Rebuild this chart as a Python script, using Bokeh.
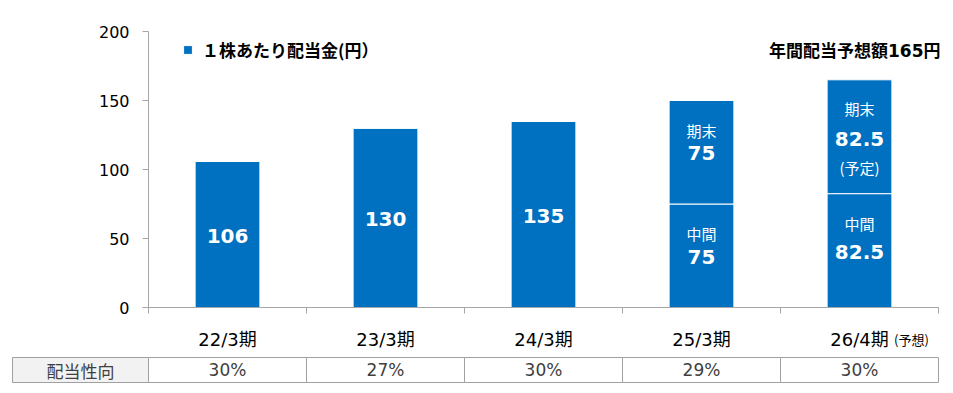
from bokeh.plotting import figure
from bokeh.models import (ColumnDataSource, Range1d, FixedTicker, Legend,
                          LegendItem, Label)
from bokeh.embed import file_html
from bokeh.resources import INLINE
from bokeh.core.properties import value

# ---------------- data ----------------
categories = ["22/3期", "23/3期", "24/3期", "25/3期", "26/4期"]
lower_dividend = [106, 130, 135, 75, 82.5]     # annual total or interim (中間)
upper_dividend = [0, 0, 0, 75, 82.5]           # year-end (期末)
lower_caption = ["", "", "", "中間", "中間"]
upper_caption = ["", "", "", "期末", "期末"]
upper_note = ["", "", "", "", "(予定)"]
payout_ratio = ["30%", "27%", "30%", "29%", "30%"]
y_ticks = [0, 50, 100, 150, 200]
legend_text = "１株あたり配当金(円）"
note_text = "年間配当予想額165円"
forecast_suffix = "(予想)"
table_header = "配当性向"

# ---------------- style / layout ----------------
BLUE = "#0070C0"
GRAY = "#a6a6a6"
TBL_GRAY = "#a0a0a0"
CJK = "Noto Sans CJK JP"
NUM = "DejaVu Sans"
MIX = "DejaVu Sans, Noto Sans CJK JP"

W, H = 950, 390
AX_X0 = 148          # pixel of category boundary 0
PX_PER_CAT = 158
AX_Y0 = 307          # pixel of value 0
PX_PER_UNIT = 1.38
TBL_TOP, TBL_BOT = 357, 382
TBL_LEFT = 12

n = len(categories)
centers = [i + 0.5 for i in range(n)]

x_range = Range1d(-AX_X0 / PX_PER_CAT, (W - AX_X0) / PX_PER_CAT)
y_range = Range1d((AX_Y0 - H) / PX_PER_UNIT, AX_Y0 / PX_PER_UNIT)

p = figure(width=W, height=H, x_range=x_range, y_range=y_range,
           output_backend="svg", toolbar_location=None,
           min_border=0, min_border_left=0, min_border_right=0,
           min_border_top=0, min_border_bottom=0)
p.title.visible = False
p.outline_line_color = None
p.xgrid.visible = False
p.ygrid.visible = False

# table range: row spans 0..1
tbl_h = TBL_BOT - TBL_TOP
p.extra_y_ranges = {"table": Range1d((TBL_BOT - H) / tbl_h, TBL_BOT / tbl_h)}

src = ColumnDataSource(dict(x=centers, lower=lower_dividend, upper=upper_dividend))
rs = p.vbar_stack(["lower", "upper"], x="x", width=0.41, source=src,
                  fill_color=BLUE, line_color="white", line_width=1)

# y axis
ya = p.yaxis[0]
ya.fixed_location = 0
ya.bounds = (y_ticks[0], y_ticks[-1])
ya.ticker = FixedTicker(ticks=y_ticks)
ya.axis_line_color = GRAY
ya.major_tick_line_color = GRAY
ya.major_tick_out = 6
ya.major_tick_in = 0
ya.minor_tick_line_color = None
ya.major_label_standoff = 13
ya.major_label_text_font = NUM
ya.major_label_text_font_size = "16px"
ya.major_label_text_color = "#000000"

# x axis: labels at category centres, ticks at boundaries
xa = p.xaxis[0]
xa.fixed_location = 0
xa.bounds = (0, n)
xa.ticker = FixedTicker(ticks=centers, minor_ticks=list(range(n + 1)))
xa.major_label_overrides = {c: lab for c, lab in zip(centers, categories)}
xa.axis_line_color = GRAY
xa.major_tick_line_color = None
xa.major_tick_out = 0
xa.major_tick_in = 0
xa.minor_tick_line_color = GRAY
xa.minor_tick_out = 6
xa.minor_tick_in = 0
xa.major_label_standoff = 15
xa.major_label_text_font = MIX
xa.major_label_text_font_size = "18px"
xa.major_label_text_font_style = "normal"
xa.major_label_text_color = "#000000"

# bar value labels
num_x, num_y, num_t, num_o = [], [], [], []
cap_x, cap_y, cap_t, cap_o = [], [], [], []
for i in range(n):
    lo, up = lower_dividend[i], upper_dividend[i]
    if up == 0:
        num_x.append(centers[i]); num_y.append(lo / 2); num_t.append(f"{lo:g}"); num_o.append(1.5)
    else:
        has_note = upper_note[i] != ""
        mid_lo = lo / 2
        mid_up = lo + up / 2
        num_x += [centers[i], centers[i]]
        num_y += [mid_lo, mid_up]
        num_t += [f"{lo:g}", f"{up:g}"]
        num_o += [1.5, 2 if has_note else 1]
        cap_x += [centers[i], centers[i]]
        cap_y += [mid_lo, mid_up]
        cap_t += [lower_caption[i], upper_caption[i]]
        cap_o += [-27 if has_note else -22, -28 if has_note else -22]
        if has_note:
            cap_x.append(centers[i]); cap_y.append(mid_up); cap_t.append(upper_note[i]); cap_o.append(31)

p.text(x=num_x, y=num_y, text=num_t, y_offset=num_o, text_align="center",
       text_baseline="middle", text_color="white", text_font=value(NUM),
       text_font_size="20px", text_font_style="bold")
p.text(x=cap_x, y=cap_y, text=cap_t, y_offset=cap_o, text_align="center",
       text_baseline="middle", text_color="white", text_font=value(CJK),
       text_font_size="15px")

# legend
legend = Legend(items=[LegendItem(label=legend_text, renderers=[rs[0]])],
                location=(182, 328), padding=0, margin=0, spacing=0,
                glyph_width=11, glyph_height=11, label_standoff=9,
                label_height=11, border_line_color=None,
                background_fill_alpha=0,
                label_text_font=CJK, label_text_font_size="17px",
                label_text_font_style="bold", label_text_color="#000000")
p.add_layout(legend)

p.add_layout(Label(x=n, y=(AX_Y0 - 50) / PX_PER_UNIT, x_offset=2, text=note_text,
                   text_align="right", text_baseline="middle", text_font=MIX,
                   text_font_size="17px", text_font_style="bold",
                   text_color="#000000"))

p.add_layout(Label(x=centers[-1], y=(AX_Y0 - 339) / PX_PER_UNIT, x_offset=52,
                   text=forecast_suffix, text_align="center",
                   text_baseline="middle", text_font=CJK,
                   text_font_size="13px", text_color="#000000"))

# ---------------- payout-ratio table ----------------
hdr_left = (TBL_LEFT - AX_X0) / PX_PER_CAT
p.quad(left=[hdr_left], right=[0], bottom=[0], top=[1], y_range_name="table",
       fill_color="#f2f2f2", line_color=TBL_GRAY, line_width=1)
p.quad(left=list(range(n)), right=[i + 1 for i in range(n)], bottom=0, top=1,
       y_range_name="table", fill_color="white", line_color=TBL_GRAY,
       line_width=1)
p.text(x=[hdr_left / 2], y=[0.5], text=[table_header], y_range_name="table",
       text_align="center", text_baseline="middle", text_font=value(CJK),
       text_font_size="17px", text_color="#404040")
p.text(x=centers, y=[0.5] * n, text=payout_ratio, y_range_name="table",
       text_align="center", text_baseline="middle", text_font=value(NUM),
       text_font_size="17px", text_color="#404040")

open("out.html", "w").write(file_html(p, INLINE))
